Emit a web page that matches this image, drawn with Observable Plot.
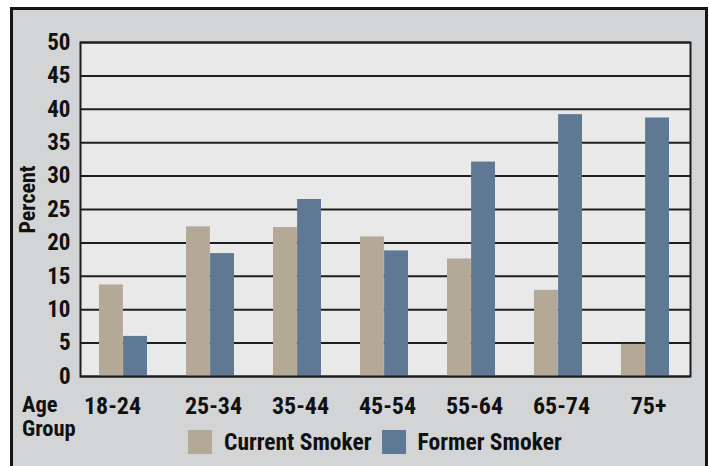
<!DOCTYPE html>
<html>
<head>
<meta charset="utf-8">
<script src="https://cdn.jsdelivr.net/npm/d3@7"></script>
<script src="https://cdn.jsdelivr.net/npm/@observablehq/plot@0.6"></script>
<style>
  html, body { margin: 0; padding: 0; background: #ffffff; }
  body { font-family: "Roboto Condensed", "Liberation Sans Narrow", "Arial Narrow", sans-serif; font-weight: bold; }
  #wrap { position: relative; width: 709px; height: 466px; overflow: hidden; }
  #frame { position: absolute; left: 10px; top: 7px; width: 692px; height: 470px; background: #d3d4d6; border: 3px solid #161616; }
  #chart { position: absolute; left: 0; top: 0; }
  #agegroup { position: absolute; left: 22px; top: 392px; font-size: 22.5px; line-height: 24px; color: #111; }
  #legend { position: absolute; left: 188px; top: 428px; display: flex; align-items: center; font-size: 23.5px; color: #111; }
  .sw { width: 24px; height: 24px; display: inline-block; }
  .lab { margin-left: 12px; margin-right: 10px; }
</style>
</head>
<body>
<div id="wrap">
  <div id="frame"></div>
  <div id="chart"></div>
  <div id="agegroup">Age<br>Group</div>
  <div id="legend"></div>
</div>
<script>
const ages = ["18-24", "25-34", "35-44", "45-54", "55-64", "65-74", "75+"];
const currentSmoker = [13.7, 22.4, 22.3, 20.9, 17.6, 12.9, 4.8];
const formerSmoker = [6.0, 18.4, 26.5, 18.8, 32.1, 39.2, 38.7];
const seriesNames = ["Current Smoker", "Former Smoker"];
const seriesColors = ["#b4a897", "#5f7893"];
const yTicks = [0, 5, 10, 15, 20, 25, 30, 35, 40, 45, 50];
const yLabel = ["Percent"];

const current = ages.map((a, i) => ({age: a, value: currentSmoker[i]}));
const former = ages.map((a, i) => ({age: a, value: formerSmoker[i]}));

const font = '"Roboto Condensed", "Liberation Sans Narrow", "Arial Narrow", sans-serif';

const chart = Plot.plot({
  width: 709,
  height: 425,
  marginTop: 42,
  marginBottom: 49,
  marginLeft: 80,
  marginRight: 19,
  style: {background: "transparent", fontFamily: font, fontWeight: "bold", color: "#111"},
  x: {domain: ages, range: [77, 690], paddingInner: 0.45, paddingOuter: 0.225, axis: null},
  y: {domain: [0, 50], axis: null},
  marks: [
    Plot.frame({fill: "#e9e9e9", stroke: null}),
    Plot.ruleY(yTicks, {stroke: "#1e1e1e", strokeWidth: 2}),
    Plot.barY(current, {x: "age", y: "value", fill: seriesColors[0], insetRight: 24.1}),
    Plot.barY(former, {x: "age", y: "value", fill: seriesColors[1], insetLeft: 24.1}),
    Plot.frame({stroke: "#1e1e1e", strokeWidth: 2}),
    Plot.axisY({ticks: yTicks, tickSize: 0, tickPadding: 10, fontSize: 23, label: null}),
    Plot.text(yLabel, {text: d => d, frameAnchor: "left", textAnchor: "middle", lineAnchor: "middle", rotate: -90, dx: -53, dy: -10, fontSize: 22, fontWeight: "bold", fill: "#111"}),
    Plot.axisX({ticks: ages.slice(0, 1), tickSize: 0, tickPadding: 20, fontSize: 24, label: null, dx: -11}),
    Plot.axisX({ticks: ages.slice(1), tickSize: 0, tickPadding: 20, fontSize: 24, label: null, dx: 3})
  ]
});
document.getElementById("chart").append(chart);

const legend = document.getElementById("legend");
seriesNames.forEach((name, i) => {
  const sw = document.createElement("span");
  sw.className = "sw";
  sw.style.background = seriesColors[i];
  const lab = document.createElement("span");
  lab.className = "lab";
  lab.textContent = name;
  legend.append(sw, lab);
});
</script>
</body>
</html>
